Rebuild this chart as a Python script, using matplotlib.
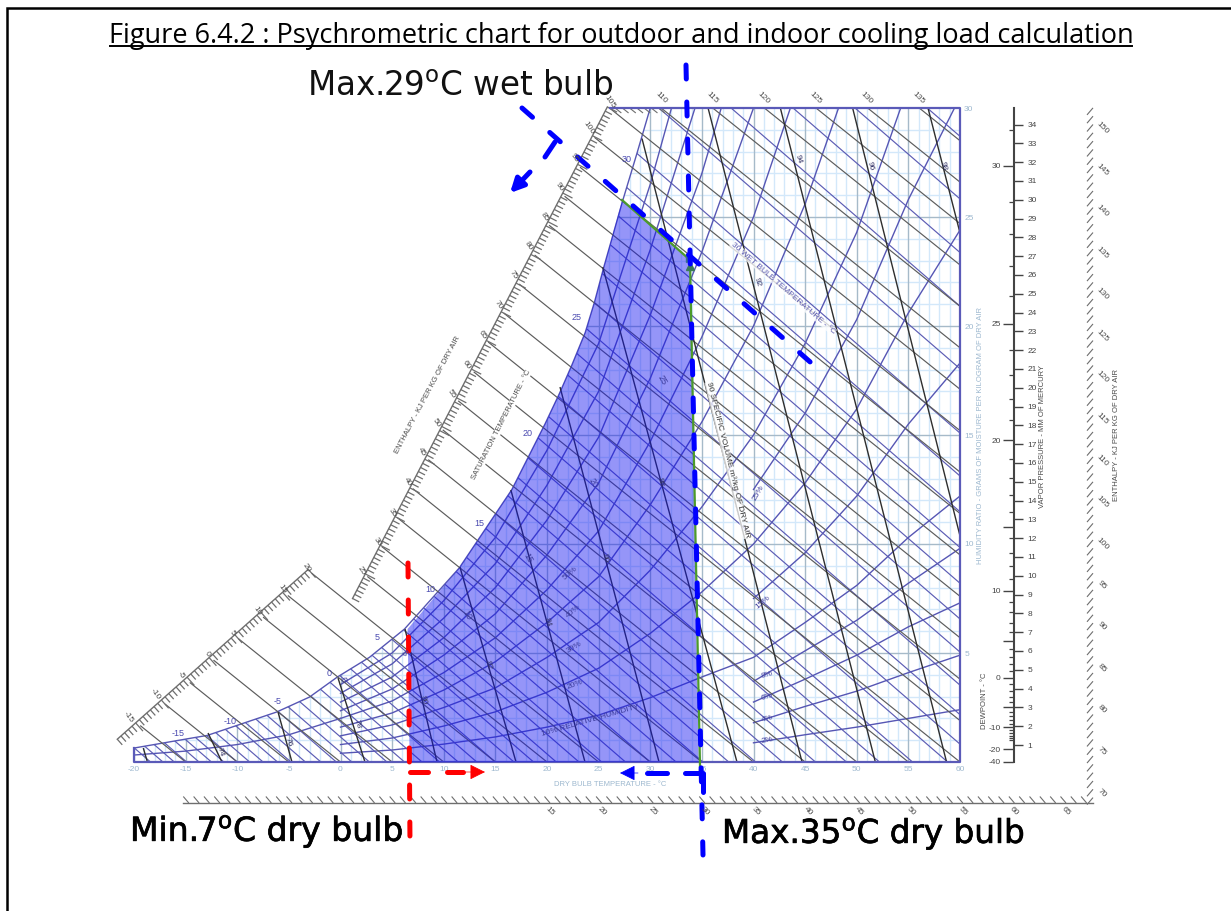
#!/usr/bin/env python3
"""
Psychrometric chart with the outdoor / indoor cooling load zone
"""

import numpy as np
import matplotlib
matplotlib.use('Agg')
import matplotlib.pyplot as plt
import matplotlib.patheffects as pe
from matplotlib.collections import LineCollection
from matplotlib.patches import Polygon

plt.rcParams['font.family'] = ['Liberation Sans', 'DejaVu Sans']
plt.rcParams['mathtext.fontset'] = 'dejavusans'
plt.rcParams['axes.unicode_minus'] = False

W_PX, H_PX = 1231, 911
PX_T = 10.325   # pixels per degC
PX_W = 21.8     # pixels per g/kg

# saturation curve (dry bulb degC, g/kg)
sat_T = [-20.0, -15.0, -12.9, -6.2, -3.0, -0.3, 2.8, 6.2, 11.5, 16.6, 19.8, 21.2, 22.4, 23.7, 24.6, 25.5, 27.3, 28.7, 30.0]
sat_W = [0.64, 1.05, 1.22, 2.29, 2.98, 3.9, 4.8, 6.1, 8.9, 12.5, 15.5, 16.9, 18.2, 19.7, 21.1, 22.7, 25.7, 27.9, 30.0]

# enthalpy lines: value and where each one leaves the scale
enth_low = [-15, -10, -5, 0, 5, 10, 15, 20]
enth_low_T = [-19.4, -17.0, -14.6, -12.3, -9.9, -7.5, -5.1, -2.8]
enth_mid = [25, 30, 35, 40, 45, 50, 55, 60, 65, 70, 75, 80, 85, 90, 95, 100, 105]
enth_mid_T = [2.6, 4.0, 5.5, 7.0, 8.5, 9.9, 11.4, 12.9, 14.3, 15.8, 17.3, 18.8, 20.2, 21.7, 23.2, 24.6, 26.1]
enth_top = [110, 115, 120, 125, 130, 135]
enth_top_T = [31.1, 36.1, 41.1, 46.1, 51.1, 56.1]
enth_k = 0.38

# wet bulb lines: dry bulb value where each would meet W=0
wb_intercept = [-18.4, -17.2, -16.1, -14.9, -13.7, -12.5, -11.3, -10.0, -8.8, -7.5, -6.1, -4.8, -3.4, -1.9,
                -0.4, 1.1, 2.8, 4.5, 6.2, 7.9, 9.6, 11.4, 13.2, 15.0, 16.8, 18.7, 20.9, 23.1, 25.3, 27.6,
                30.0, 32.5, 35.1, 37.6, 40.2, 42.8, 46.0, 49.0, 52.2, 55.4, 58.8, 62.0, 65.3, 68.6, 72.3,
                76.0, 80.0, 84.0, 88.0, 92.0, 96.8, 104.0, 111.0, 117.0, 123.0, 130.0]
wb_k = 0.41

# specific volume lines
vol_start_T = [-19.1, -12.83, -6.05, -0.24, 6.25, 11.57, 16.5, 21.26, 25.4, 29.2, 35.6, 42.6, 49.6, 56.9]
vol_start_W = [0.64, 1.33, 2.29, 3.85, 6.1, 8.94, 12.48, 17.2, 22.7, 28.6, 30.0, 30.0, 30.0, 30.0]
vol_end_T = [-18.7, -11.48, -4.7, 2.37, 9.35, 17.0, 23.68, 30.85, 38.4, 44.7, 51.8, 58.7, 60.0, 60.0]
vol_end_W = [0, 0, 0, 0, 0, 0, 0, 0, 0, 0, 0, 0, 10.37, 24.27]

# relative humidity curves
rh_T_full = [0, 5, 10, 15, 20, 25, 30, 35, 40, 45, 50, 55, 60]
rh_90 = [3.55, 5.0, 7.4, 10.3, 14.3, 19.2, 26.5, 35.0]
rh_80 = [3.15, 4.5, 6.6, 9.1, 12.7, 17.0, 23.5, 31.0]
rh_70 = [2.75, 3.9, 5.7, 8.0, 11.1, 14.9, 20.5, 27.0, 35.0]
rh_60 = [2.35, 3.35, 4.9, 6.8, 9.5, 12.8, 17.6, 23.4, 30.0, 38.0]
rh_50 = [2.0, 2.8, 4.1, 5.7, 7.9, 10.6, 14.7, 19.5, 25.0, 32.0]
rh_40 = [1.6, 2.25, 3.3, 4.6, 6.4, 8.5, 11.8, 15.6, 20.0, 25.6, 32.4]
rh_30 = [1.2, 1.7, 2.5, 3.4, 4.8, 6.4, 8.8, 11.7, 15.0, 19.2, 24.3, 31.0]
rh_20 = [0.8, 1.1, 1.65, 2.3, 3.2, 4.3, 5.9, 7.8, 10.0, 12.8, 16.2, 20.6, 24.4]
rh_10 = [0.4, 0.55, 0.82, 1.15, 1.6, 2.15, 2.95, 3.9, 4.8, 6.4, 8.1, 10.3, 12.2]
rh_T_high = [40, 45, 50, 55, 60]
rh_25 = [12.5, 16.0, 20.3, 25.8, 30.5]
rh_15 = [7.5, 9.6, 12.2, 15.5, 18.3]
rh_8 = [3.7, 5.1, 6.5, 8.2, 9.8]
rh_6 = [2.75, 3.8, 4.9, 6.2, 7.3]
rh_4 = [1.8, 2.55, 3.25, 4.1, 4.9]
rh_2 = [0.88, 1.25, 1.6, 2.0, 2.4]
rh_T_cold = [-20, -15, -10, -5, 0]
rh_50_cold = [0.32, 0.5, 0.8, 1.25, 2.0]

# cooling load zone and its outline
zone_T = [6.5, 11.5, 16.6, 19.8, 21.2, 22.4, 23.7, 24.6, 25.5, 27.3, 33.85, 34.7, 6.7]
zone_W = [6.1, 8.9, 12.5, 15.5, 16.9, 18.2, 19.7, 21.1, 22.7, 25.8, 23.0, 0.0, 0.0]
green_T = [27.27, 33.85, 34.82]
green_W = [25.78, 23.03, -0.2]

# vapour pressure / dew point scale
vp_ticks = list(range(1, 35))
dew_major_vp = [31.8, 23.4, 17.2, 12.6, 9.21, 6.54, 4.58, 3.01, 1.95, 0.78, 0.1]
dew_major_lbl = ['30', '25', '20', '', '10', '', '0', '', '-10', '-20', '-40']
dew_minor_vp = [1.24, 1.36, 1.5, 1.65, 1.8, 2.13, 2.33, 2.53, 2.76, 3.28, 3.57, 3.88, 4.22, 4.93, 5.29, 5.69,
                6.1, 7.01, 7.5, 8.05, 8.61, 9.84, 10.52, 11.23, 11.99, 13.4, 14.3, 15.2, 16.2, 18.3, 19.4,
                20.7, 22.0, 24.9, 26.5, 28.2, 29.9, 33.7]

# enthalpy labels on the outer scales
bottom_h = [15, 20, 25, 30, 35, 40, 45, 50, 55, 60, 65]
right_h = [70, 75, 80, 85, 90, 95, 100, 105, 110, 115, 120, 125, 130, 135, 140, 145, 150]

# annotations (picture pixels)
blue_vert_x = [686, 703]
blue_vert_y = [65, 855]
blue_diag_x = [522, 817]
blue_diag_y = [108, 368]
red_vert_x = [408, 410]
red_vert_y = [563, 845]

DARK = '#4a4a4a'
ENTH = '#5c5c5c'
SCALE = '#6e6e6e'
NAVY = '#5c5cb4'
PALE = '#9db8cf'


def px_rect(x0, y0, x1, y1):
    return [x0 / W_PX, 1 - y1 / H_PX, (x1 - x0) / W_PX, (y1 - y0) / H_PX]


fig = plt.figure(figsize=(W_PX / 100, H_PX / 100), dpi=100)

# main chart: dry bulb vs humidity ratio
ax = fig.add_axes(px_rect(134, 108, 960, 762))
ax.set_xlim(-20, 60)
ax.set_ylim(0, 30)
for side in ['left', 'top', 'right', 'bottom']:
    ax.spines[side].set_visible(False)
ax.set_xticks(range(-20, 61, 5))
ax.yaxis.tick_right()
ax.set_yticks(range(5, 31, 5))
ax.tick_params(axis='both', length=0, labelsize=6, labelcolor=PALE, pad=3)

region = Polygon(list(zip(sat_T, sat_W)) + [(60, 30), (60, 0), (-20, 0)], fc='none', ec='none')
ax.add_patch(region)

# grid, under the saturation curve only
segs = [[(t, 0), (t, 30)] for t in range(-20, 61) if t % 5]
lc = LineCollection(segs, colors='#d3e8fa', linewidths=1.0, zorder=1)
ax.add_collection(lc)
lc.set_clip_path(region)
segs = [[(-20, w), (60, w)] for w in range(1, 30) if w % 5]
lc = LineCollection(segs, colors='#d3e8fa', linewidths=1.0, zorder=1)
ax.add_collection(lc)
lc.set_clip_path(region)
segs = [[(t, 0), (t, 30)] for t in range(-20, 61, 5)] + [[(-20, w), (60, w)] for w in range(5, 30, 5)]
lc = LineCollection(segs, colors='#a6bac9', linewidths=1.0, zorder=1.2)
ax.add_collection(lc)
lc.set_clip_path(region)

# wet bulb lines
segs = [[(t0 - 32 / wb_k, 32), (t0, 0)] for t0 in wb_intercept]
lc = LineCollection(segs, colors=NAVY, linewidths=0.85, zorder=2)
ax.add_collection(lc)
lc.set_clip_path(region)

# relative humidity curves
rh_curves = [(rh_T_full, c) for c in (rh_90, rh_80, rh_70, rh_60, rh_50, rh_40, rh_30, rh_20, rh_10)]
rh_curves += [(rh_T_high, c) for c in (rh_25, rh_15, rh_8, rh_6, rh_4, rh_2)]
rh_curves += [(rh_T_cold, rh_50_cold)]
for xs, ys in rh_curves:
    line, = ax.plot(xs[:len(ys)], ys, color='#5656b4', lw=1.0, zorder=2.2)
    line.set_clip_path(region)

# enthalpy lines, from the scale to W=0
all_h = enth_low + enth_mid + enth_top
all_hT = enth_low_T + enth_mid_T + enth_top_T
segs = [[(t, enth_k * (h - t)), (h, 0)] for h, t in zip(all_h, all_hT)]
ax.add_collection(LineCollection(segs, colors=ENTH, linewidths=0.85, zorder=2.5))

# specific volume lines
segs = [[(a, b), (c, d)] for a, b, c, d in zip(vol_start_T, vol_start_W, vol_end_T, vol_end_W)]
lc = LineCollection(segs, colors='#2e2e2e', linewidths=1.0, zorder=2.6)
ax.add_collection(lc)

# enthalpy scale along the saturation side, ticks square to its baseline
for hs, ts, back in [(enth_low, enth_low_T, 5.0), (enth_mid, enth_mid_T, 3.0)]:
    slope = (ts[-1] - ts[0]) / (hs[-1] - hs[0])
    step_x = slope * PX_T
    step_y = enth_k * (1 - slope) * PX_W
    norm = np.hypot(step_x, step_y)
    ux, uy = step_y / norm, step_x / norm    # right and down, pixels
    fine_h = np.arange(hs[0] - 4, hs[-1] + 0.01, 0.75 if hs[0] < 0 else 0.7)
    fine_T = ts[0] + (fine_h - hs[0]) * slope
    fine_W = enth_k * (fine_h - fine_T)
    base_T = fine_T - back * ux / PX_T
    base_W = fine_W + back * uy / PX_W
    ticks = []
    for h, t, w in zip(fine_h, base_T, base_W):
        size = 11.0 if abs(h / 5 - round(h / 5)) < 0.08 else 7.5
        ticks.append([(t, w), (t + size * ux / PX_T, w - size * uy / PX_W)])
    lc = LineCollection(ticks, colors=SCALE, linewidths=0.9, zorder=2.5)
    lc.set_clip_on(False)
    ax.add_collection(lc)
    line, = ax.plot(base_T, base_W, color=SCALE, lw=1.0, zorder=2.5)
    line.set_clip_on(False)
ticks = [[(h - 78.9, 30), (h - 78.9 + 0.6, 30 - enth_k * 0.6)] for h in np.arange(105.5, 110, 0.7)]
ax.add_collection(LineCollection(ticks, colors=SCALE, linewidths=0.8, zorder=2.5))

# chart outline
ax.plot([-20, -20, 60, 60, 26.1], [sat_W[0], 0, 0, 30, 30], color='#5a5ab8', lw=1.6, zorder=3, clip_on=False)
ax.plot(sat_T, sat_W, color='#5656b4', lw=1.0, zorder=2.4)

# cooling load zone
ax.fill(zone_T, zone_W, color='#1414f0', alpha=0.45, lw=0, zorder=4)
ax.plot(green_T, green_W, color='#4c9a2a', lw=1.6, zorder=4.5, clip_on=False)
ax.plot(green_T[1], green_W[1] + 0.1, marker='>', ms=6, color='#3c6e8a', zorder=4.6)
ax.plot(green_T[1], green_W[1] - 0.3, marker='^', ms=6, color='#3c7a5a', zorder=4.6)

# vapour pressure scale (right ticks) and dew point scale (left ticks)
vp_ax = fig.add_axes(px_rect(1012.5, 108, 1013.5, 762))
vp_ax.set_ylim(0.096, 34.88)
vp_ax.set_xticks([])
for side in ['top', 'bottom', 'left']:
    vp_ax.spines[side].set_visible(False)
vp_ax.spines['right'].set_linewidth(1.5)
vp_ax.spines['right'].set_color('#444444')
vp_ax.yaxis.tick_right()
vp_ax.set_yticks(vp_ticks)
vp_ax.tick_params(axis='y', length=6.5, width=1.0, color='#444444', labelsize=6, labelcolor='#444444', pad=3.5)

dew_ax = fig.add_axes(px_rect(1012.5, 108, 1013.5, 762))
dew_ax.patch.set_visible(False)
dew_ax.set_ylim(0.096, 34.88)
dew_ax.set_xticks([])
for side in ['top', 'bottom', 'left', 'right']:
    dew_ax.spines[side].set_visible(False)
dew_ax.set_yticks(dew_major_vp)
dew_ax.set_yticklabels(dew_major_lbl)
dew_ax.set_yticks(dew_minor_vp, minor=True)
dew_ax.tick_params(axis='y', which='major', length=7.5, width=1.0, color='#444444', labelsize=6, labelcolor='#444444', pad=1)
dew_ax.tick_params(axis='y', which='minor', length=3.2, width=0.9, color='#444444')

# overlay in picture pixels for outer scales, labels and annotations
ov = fig.add_axes([0, 0, 1, 1])
ov.set_xlim(0, W_PX)
ov.set_ylim(H_PX, 0)
ov.axis('off')
ov.patch.set_visible(False)

# page frame
ov.plot([7, 7, W_PX], [H_PX, 8, 8], color='black', lw=1.8, solid_joinstyle='miter')

# bottom enthalpy scale
xs = 550 + (np.arange(-21, 68) - 15) * 10.32
segs = [[(x - 5.5, 796.5), (x, 803)] for x in xs if 183 <= x <= 1093]
ov.add_collection(LineCollection(segs, colors=SCALE, linewidths=0.8))
ov.plot([183, 1093], [803, 803], color=SCALE, lw=1.0)
for h in bottom_h:
    ov.text(550 + (h - 15) * 10.32, 811, str(h), fontsize=6, color=DARK, rotation=-45, ha='center', va='center')

# right enthalpy scale
ys = 128 + (150 - np.arange(66, 153)) * 8.31
segs = [[(1087, y + 3.5), (1093, y - 3.5)] for y in ys if 104 <= y <= 803]
ov.add_collection(LineCollection(segs, colors=SCALE, linewidths=0.8))
for h in right_h:
    ov.text(1102, 128 + (150 - h) * 8.31, str(h), fontsize=6, color=DARK, rotation=-45, ha='center', va='center')

# enthalpy labels on the saturation side
low_lbl_x = [128, 155, 181, 207, 232, 257, 282, 307]
low_lbl_y = [717, 694, 675, 654, 633, 611, 589, 568]
for h, x, y in zip(enth_low, low_lbl_x, low_lbl_y):
    ov.text(x, y, str(h), fontsize=6, color=DARK, rotation=-55, ha='center', va='center')
mid_lbl_x = [362, 378, 393, 408, 422, 437, 452, 467, 483, 498, 513, 529, 545, 560, 575, 589, 610]
mid_lbl_y = [571, 542, 513, 482, 452, 423, 394, 365, 335, 305, 275, 246, 217, 187, 158, 128, 102]
for h, x, y in zip(enth_mid, mid_lbl_x, mid_lbl_y):
    ov.text(x, y, str(h), fontsize=6, color=DARK, rotation=-55, ha='center', va='center')
top_lbl_x = [661, 712, 763, 815, 866, 918]
for h, x in zip(enth_top, top_lbl_x):
    ov.text(x, 98, str(h), fontsize=6, color=DARK, rotation=-45, ha='center', va='center')

# saturation temperature labels
wb_lbl = ['-15', '-10', '-5', '0', '5', '10', '15', '20', '25', '30']
wb_lbl_x = [178, 230, 278, 329, 377, 430, 479, 528, 577, 627]
wb_lbl_y = [734, 722, 702, 674, 638, 589, 523, 434, 317, 160]
for s, x, y in zip(wb_lbl, wb_lbl_x, wb_lbl_y):
    ov.text(x, y, s, fontsize=6.5, color='#4a4ab0', ha='center', va='center')

# wet bulb labels inside the chart
mid_wb_lbl = ['0', '5', '10', '15', '20', '25']
mid_wb_x = [343, 404, 467, 528, 593, 662]
mid_wb_y = [680, 653, 615, 558, 483, 380]
for s, x, y in zip(mid_wb_lbl, mid_wb_x, mid_wb_y):
    ov.text(x, y, s, fontsize=6.5, color='#3a3a9a', rotation=-60, ha='center', va='center')

# specific volume labels
vol_lbl = ['74', '76', '78', '80', '82', '84', '86', '88', '92', '94', '96', '98']
vol_lbl_x = [220, 288, 357, 423, 488, 547, 605, 660, 757, 798, 870, 943]
vol_lbl_y = [752, 742, 724, 700, 665, 622, 558, 482, 282, 159, 166, 166]
for s, x, y in zip(vol_lbl, vol_lbl_x, vol_lbl_y):
    ov.text(x, y, s, fontsize=6, color='#333366', rotation=-75, ha='center', va='center')

# relative humidity labels
rh_lbl = ['50%', '40%', '30%', '20%', '25%', '15%', '8%', '6%', '4%', '2%']
rh_lbl_x = [570, 573, 574, 575, 758, 763, 767, 767, 767, 767]
rh_lbl_y = [573, 611, 648, 685, 493, 602, 675, 697, 719, 740]
rh_lbl_rot = [40, 40, 30, 20, 60, 40, 15, 15, 15, 10]
for s, x, y, r in zip(rh_lbl, rh_lbl_x, rh_lbl_y, rh_lbl_rot):
    ov.text(x, y, s, fontsize=6, color='#3f3f9f', rotation=r, ha='center', va='center')

halo = dict(boxstyle='square,pad=0.05', fc='white', ec='none', alpha=0.75)
ov.text(590, 721, '10% RELATIVE HUMIDITY', fontsize=6, color='#3a3a9a', rotation=16, ha='center', va='center')
ov.text(783, 288, '30 WET BULB TEMPERATURE - \u00b0C', fontsize=6, color='#5a5ab0', rotation=-41, ha='center', va='center', bbox=halo)
ov.text(728, 460, '90 SPECIFIC VOLUME m\u00b3/kg OF DRY AIR', fontsize=6, color='#333333', rotation=-76, ha='center', va='center', bbox=halo)
ov.text(428, 395, 'ENTHALPY - KJ PER KG OF DRY AIR', fontsize=5.5, color=DARK, rotation=62, ha='center', va='center')
ov.text(501, 425, 'SATURATION TEMPERATURE - \u00b0C', fontsize=5.5, color=DARK, rotation=63, ha='center', va='center', bbox=dict(boxstyle='square,pad=0.05', fc='white', ec='none'))
ov.text(981, 436, 'HUMIDITY RATIO - GRAMS OF MOISTURE PER KILOGRAM OF DRY AIR', fontsize=5.5, color=PALE, rotation=90, ha='center', va='center')
ov.text(1042, 436, 'VAPOR PRESSURE - MM OF MERCURY', fontsize=5.5, color=DARK, rotation=90, ha='center', va='center')
ov.text(984, 701, 'DEWPOINT - \u00b0C', fontsize=5.5, color=DARK, rotation=90, ha='center', va='center')
ov.text(1116, 435, 'ENTHALPY - KJ PER KG OF DRY AIR', fontsize=5.5, color=DARK, rotation=90, ha='center', va='center')
ov.text(610, 784, 'DRY BULB TEMPERATURE - \u00b0C', fontsize=5.5, color=PALE, ha='center', va='center')

# title
ov.text(621, 42.5, 'Figure 6.4.2 : Psychrometric chart for outdoor and indoor cooling load calculation',
        fontsize=19.55, family='Open Sans', color='black', ha='center', va='baseline')
ov.plot([110, 1132], [46, 46], color='black', lw=1.4)

# callouts
bold_edge = [pe.withStroke(linewidth=0.5, foreground='black')]
ov.text(307, 96, 'Max.29$^{\\mathrm{o}}$C wet bulb', fontsize=23.5, family='DejaVu Sans', color='#111111', va='baseline')
ov.text(130, 841, 'Min.7$^{\\mathrm{o}}$C dry bulb', fontsize=23.8, family='DejaVu Sans', color='black', va='baseline', path_effects=bold_edge)
ov.text(722, 843, 'Max.35$^{\\mathrm{o}}$C dry bulb', fontsize=23.5, family='DejaVu Sans', color='black', va='baseline', path_effects=bold_edge)

# dashed guides
blue_dash = (0, (2.8, 4.6))
ov.plot(blue_vert_x, blue_vert_y, color='#0000ff', lw=3.6, ls=blue_dash, dash_capstyle='round')
ov.plot(blue_diag_x, blue_diag_y, color='#0000ff', lw=3.6, ls=blue_dash, dash_capstyle='round')
ov.plot([555, 545], [142, 157], color='#0000ff', lw=3.6, solid_capstyle='round')
ov.annotate('', xy=(510, 193), xytext=(530, 172),
            arrowprops=dict(arrowstyle='-|>', color='#0000ff', lw=3.6, mutation_scale=20, shrinkA=0, shrinkB=0))

ov.plot(red_vert_x, red_vert_y, color='#ff0000', lw=3.6, ls=(0, (2.8, 4.6)), dash_capstyle='round')
ov.plot([410, 428], [772, 772], color='#ff0000', lw=3.6, solid_capstyle='round')
ov.plot([447, 463], [772, 772], color='#ff0000', lw=3.6, solid_capstyle='round')
ov.annotate('', xy=(485, 772), xytext=(466, 772),
            arrowprops=dict(arrowstyle='-|>', color='#ff0000', lw=0.5, mutation_scale=24, shrinkA=0, shrinkB=0))

ov.plot([685, 703, 703], [773, 773, 792], color='#0000ff', lw=3.6, solid_capstyle='round')
ov.plot([647, 667], [773, 773], color='#0000ff', lw=3.6, solid_capstyle='round')
ov.annotate('', xy=(620, 773), xytext=(638, 773),
            arrowprops=dict(arrowstyle='-|>', color='#0000ff', lw=0.5, mutation_scale=24, shrinkA=0, shrinkB=0))

plt.savefig('out.png', dpi=100)
plt.close()
